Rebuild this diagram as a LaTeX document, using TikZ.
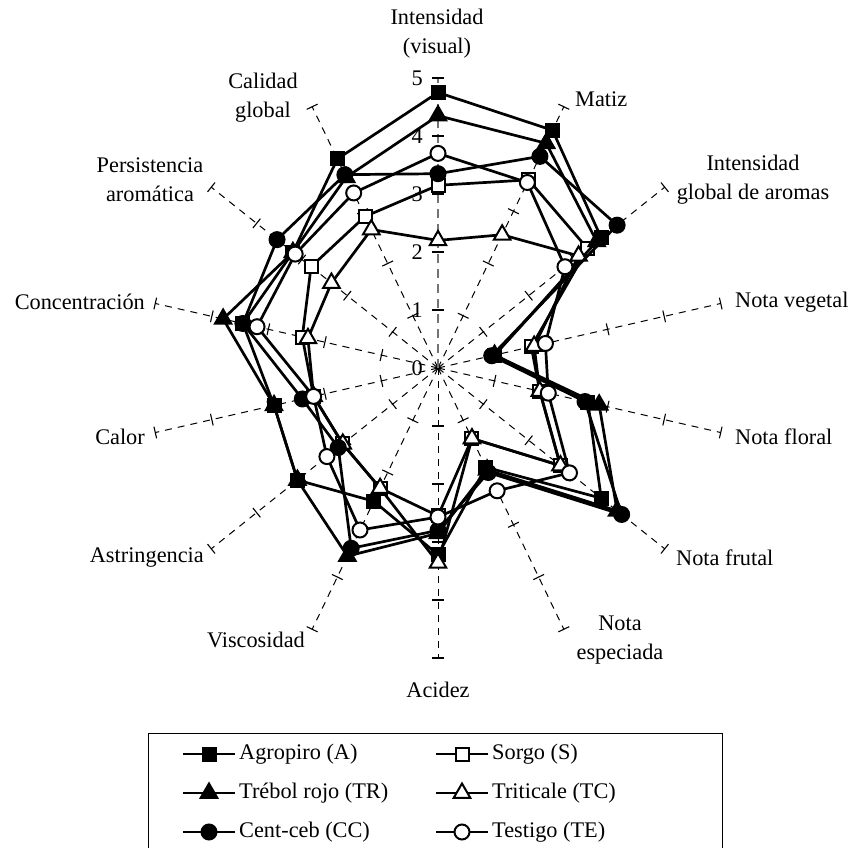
\documentclass[tikz,border=0pt]{standalone}
\usepackage{fontspec}
\setmainfont{Liberation Serif}
\usetikzlibrary{shapes.geometric,calc}
\newcommand\mkseries[2]{\foreach \v [count=\j from 0] in {#2} {\coordinate (#1\j) at ({\j*360/14-90}:{58*\v});}}
\begin{document}
\begin{tikzpicture}[x=1pt,y=-1pt,
  axisline/.style={black,line width=1pt,dash pattern=on 7pt off 6pt},
  vaxisline/.style={black!55,line width=1.8pt,dash pattern=on 9pt off 6pt},
  tickmark/.style={black,line width=1.1pt},
  serline/.style={black,line width=2.7pt,line join=round},
  mk/.style={draw=black,line width=2pt,inner sep=0pt},
  mA/.style={mk,rectangle,fill=black,minimum size=13pt},
  mS/.style={mk,rectangle,fill=white,minimum size=13pt},
  mTR/.style={mk,regular polygon,regular polygon sides=3,fill=black,minimum size=19pt},
  mTC/.style={mk,regular polygon,regular polygon sides=3,fill=white,minimum size=19pt},
  mCC/.style={mk,circle,fill=black,minimum size=15pt},
  mTE/.style={mk,circle,fill=white,minimum size=15pt},
  lab/.style={font=\fontsize{22.3}{29}\selectfont,inner sep=0pt,align=center},
]
\useasboundingbox (0,0) rectangle (852,848);
\clip (0,0) rectangle (852,848);
\fill[white] (0,0) rectangle (852,848);

\begin{scope}[shift={(438,368)}]
  % axes
  \foreach \i in {1,...,13} {\draw[axisline] (0,0) -- ({\i*360/14-90}:290) coordinate (ax\i);}
  \draw[vaxisline] (0,0) -- (-90:290) coordinate (ax0);
  \foreach \i in {0,...,13} {
    \foreach \k in {1,...,5} {
      \pgfmathsetmacro\a{\i*360/14-90}
      \draw[tickmark] ($(\a:58*\k)+(\a+90:6)$) -- ($(\a:58*\k)+(\a-90:6)$);
    }
  }
  \foreach \k in {0,...,5} {\node[lab,anchor=east] (tl\k) at (-15,-58*\k) {\k};}

  % data
  \mkseries{A}{4.75,4.55,3.6,1.0,2.65,3.6,1.9,3.22,2.55,3.1,2.9,3.45,3.2,4.0}
  \mkseries{S}{3.15,3.6,3.3,1.65,1.8,2.7,1.35,2.55,2.3,2.1,2.2,2.4,2.8,2.9}
  \mkseries{TR}{4.35,4.3,3.5,1.0,2.85,3.95,1.95,2.85,3.6,3.1,2.9,3.8,3.2,3.65}
  \mkseries{TC}{2.2,2.55,3.1,1.7,1.8,2.7,1.35,3.36,2.3,2.1,2.2,2.3,2.35,2.65}
  \mkseries{CC}{3.35,4.05,3.95,0.95,2.6,4.05,2.0,2.8,3.45,2.2,2.4,3.45,3.55,3.7}
  \mkseries{TE}{3.7,3.55,2.8,1.9,1.95,2.9,2.35,2.57,3.1,2.45,2.2,3.2,3.15,3.35}

  \foreach \s in {A,S,TR,TC,CC,TE} {
    \draw[serline] (\s0) \foreach \j in {1,...,13} {-- (\s\j)} -- cycle;
    \foreach \j in {0,...,13} {\node[m\s] (n\s\j) at (\s\j) {};}
  }
\end{scope}

% axis labels
\node[lab] (l0) at (437,34) {Intensidad\\(visual)};
\node[lab,anchor=west] (l1) at (575,99) {Matiz};
\node[lab] (l2) at (753,180) {Intensidad\\global de aromas};
\node[lab,anchor=west] (l3) at (735,302) {Nota vegetal};
\node[lab,anchor=west] (l4) at (735,437) {Nota floral};
\node[lab,anchor=west] (l5) at (676,558) {Nota frutal};
\node[lab] (l6) at (620,640) {Nota\\especiada};
\node[lab] (l7) at (438,690) {Acidez};
\node[lab,anchor=east] (l8) at (305,640) {Viscosidad};
\node[lab,anchor=east] (l9) at (204,558) {Astringencia};
\node[lab,anchor=east] (l10) at (145,437) {Calor};
\node[lab,anchor=east] (l11) at (145,302) {Concentración};
\node[lab] (l12) at (150,180) {Persistencia\\aromática};
\node[lab] (l13) at (263,98) {Calidad\\global};

% legend
\draw[line width=1pt] (148,870) -- (148,733) -- (722,733) -- (722,870);
\foreach \s/\x/\y/\t in {A/209/754/Agropiro (A), S/462/754/Sorgo (S),
    TR/209/793/Trébol rojo (TR), TC/462/793/Triticale (TC),
    CC/209/832/Cent-ceb (CC), TE/462/832/Testigo (TE)} {
  \coordinate (lg\s) at (\x,\y);
  \draw[serline] ([xshift=-26pt]lg\s) -- ([xshift=26pt]lg\s);
  \node[m\s] (lm\s) at (lg\s) {};
  \node[lab,anchor=west] (lt\s) at ([xshift=30pt]lg\s) {\t};
}
\end{tikzpicture}
\end{document}
